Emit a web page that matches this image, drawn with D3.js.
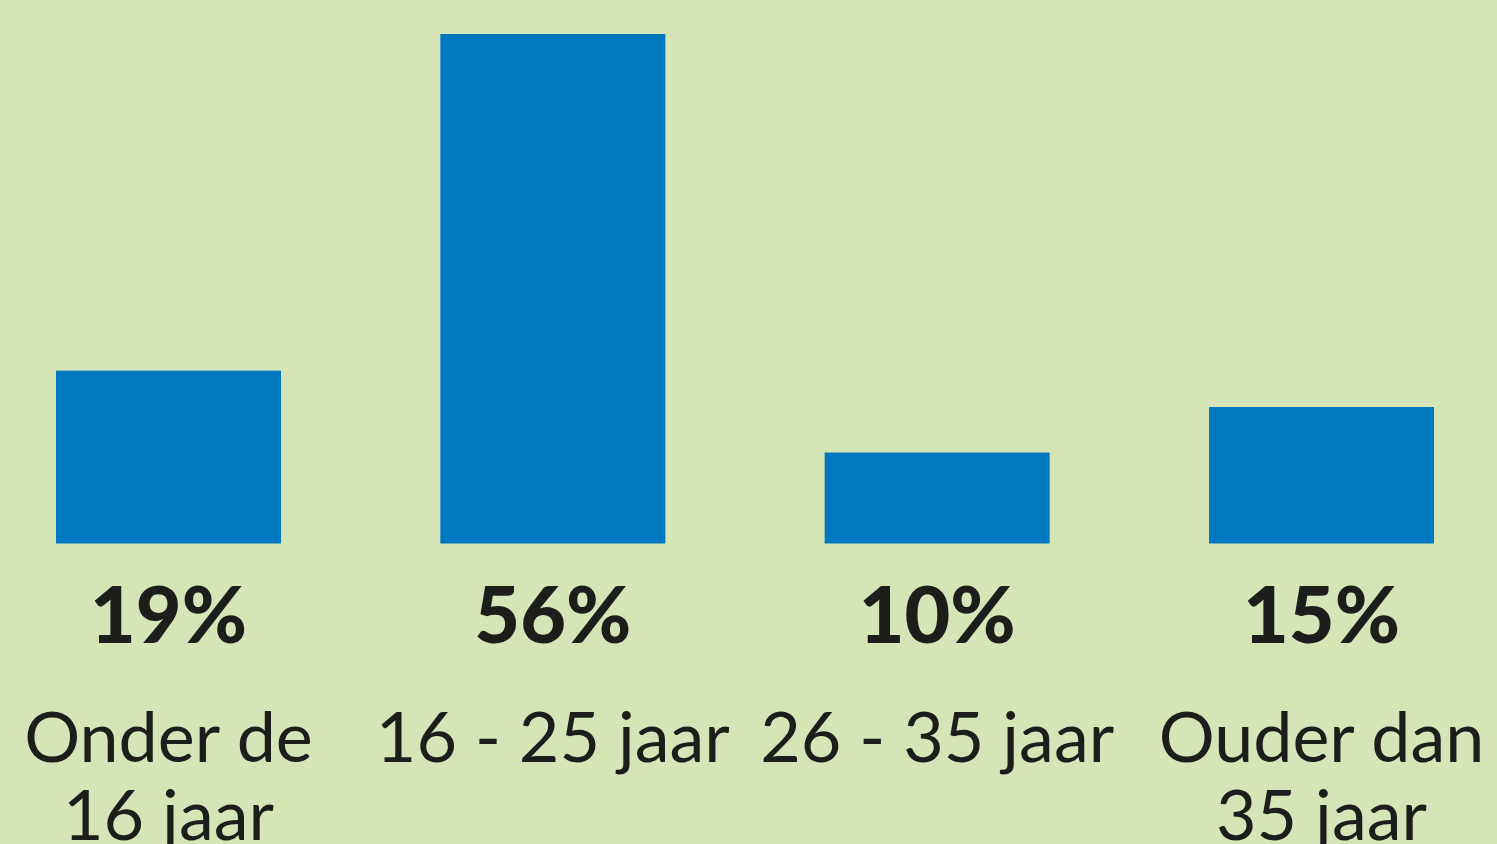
<!DOCTYPE html>
<html>
<head>
<meta charset="utf-8">
<script src="https://cdn.jsdelivr.net/npm/d3@7"></script>
<style>
  html, body { margin: 0; padding: 0; background: #d6e5b8; overflow: hidden; }
  svg { display: block; }
</style>
</head>
<body>
<svg id="chart" width="1497" height="844"></svg>
<script>
// Age groups and their share (%)
const categories = ["Onder de 16 jaar", "16 - 25 jaar", "26 - 35 jaar", "Ouder dan 35 jaar"];
const labelLines = [["Onder de", "16 jaar"], ["16 - 25 jaar"], ["26 - 35 jaar"], ["Ouder dan", "35 jaar"]];
const values = [19, 56, 10, 15];

const W = 1497, H = 844;
const svg = d3.select("#chart");

svg.append("rect").attr("width", W).attr("height", H).attr("fill", "#d6e5b8");

const x = d3.scaleBand()
  .domain(categories)
  .range([56, 1434])
  .paddingInner(0.4146)
  .paddingOuter(0);

const baseY = 543.5;
const y = d3.scaleLinear().domain([0, 56]).range([baseY, 34]);

// Bars
svg.append("g").selectAll("rect")
  .data(values)
  .join("rect")
  .attr("x", (d, i) => x(categories[i]))
  .attr("y", d => y(d))
  .attr("width", x.bandwidth())
  .attr("height", d => baseY - y(d))
  .attr("fill", "#0079c1");

// Value labels
svg.append("g").selectAll("text")
  .data(values)
  .join("text")
  .attr("x", (d, i) => x(categories[i]) + x.bandwidth() / 2)
  .attr("y", 643)
  .attr("text-anchor", "middle")
  .attr("font-family", "Lato, 'Open Sans', sans-serif")
  .attr("font-weight", 900)
  .attr("font-size", 79)
  .attr("fill", "#1d1d1b")
  .text(d => d + "%");

// Category labels
const cat = svg.append("g").selectAll("text")
  .data(labelLines)
  .join("text")
  .attr("x", (d, i) => x(categories[i]) + x.bandwidth() / 2)
  .attr("y", 762)
  .attr("text-anchor", "middle")
  .attr("font-family", "Lato, 'Open Sans', sans-serif")
  .attr("font-weight", 400)
  .attr("font-size", 70)
  .attr("fill", "#1d1d1b");

cat.selectAll("tspan")
  .data((d, i) => d.map(t => ({ t, cx: x(categories[i]) + x.bandwidth() / 2 })))
  .join("tspan")
  .attr("x", d => d.cx)
  .attr("dy", (d, j) => j === 0 ? 0 : 78)
  .text(d => d.t);
</script>
</body>
</html>
